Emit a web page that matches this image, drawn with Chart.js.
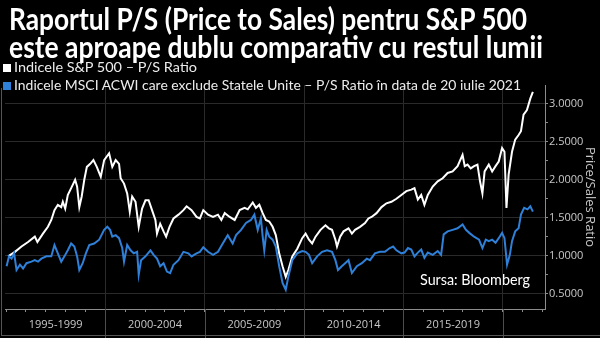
<!DOCTYPE html>
<html lang="ro">
<head>
<meta charset="utf-8">
<title>Raportul P/S - S&P 500 vs MSCI ACWI ex US</title>
<script src="https://cdn.jsdelivr.net/npm/chart.js@4.4.1/dist/chart.umd.min.js"></script>
<style>
  html, body { margin: 0; padding: 0; background: #000; }
  #wrap { position: relative; width: 600px; height: 338px; overflow: hidden; background: #000; font-family: Lato, "Open Sans", sans-serif; }
  #grafic { position: absolute; left: 0; top: 0; }
  .txt { position: absolute; white-space: nowrap; color: #fff; transform-origin: 0 0; line-height: 1; }
  .titlu { font-weight: 700; font-size: 30px; left: 9px; }
  .leg { font-size: 13px; left: 14px; color: #ececec; }
  .patrat { position: absolute; left: 3px; width: 8px; height: 8px; }
  #sursa { left: 420px; top: 272px; font-size: 15px; }
  #rama { position: absolute; left: 1px; top: 88px; width: 620px; height: 247px; border-left: 1px solid #555; border-bottom: 1px solid #555; pointer-events: none; }
</style>
</head>
<body>
<div id="wrap">
  <canvas id="grafic" width="600" height="338"></canvas>
  <div id="rama"></div>
  <div class="txt titlu" style="top:3px" data-w="518">Raportul P/S (Price to Sales) pentru S&amp;P 500</div>
  <div class="txt titlu" style="top:31px" data-w="534">este aproape dublu comparativ cu restul lumii</div>
  <div class="patrat" style="top:64px; background:#fff"></div>
  <div class="txt leg" style="top:61px" data-w="183">Indicele S&amp;P 500 – P/S Ratio</div>
  <div class="patrat" style="top:82px; background:#2f80d8"></div>
  <div class="txt leg" style="top:79px" data-w="507">Indicele MSCI ACWI care exclude Statele Unite – P/S Ratio în data de 20 iulie 2021</div>
  <div class="txt" id="sursa" data-w="110">Sursa: Bloomberg</div>
</div>
<script>
// S&P 500 - P/S (an fractionar, valoare)
const spAni = [1995.11, 1995.45, 1995.78, 1996.11, 1996.45, 1996.58, 1996.86, 1997.11, 1997.28, 1997.44,
  1997.61, 1997.78, 1997.86, 1997.98, 1998.11, 1998.28, 1998.48, 1998.58, 1998.69, 1998.81,
  1998.94, 1999.07, 1999.24, 1999.40, 1999.57, 1999.77, 1999.94, 2000.19, 2000.35, 2000.52,
  2000.69, 2000.77, 2000.94, 2001.10, 2001.23, 2001.35, 2001.52, 2001.68, 2001.85, 2002.02,
  2002.18, 2002.35, 2002.52, 2002.60, 2002.76, 2002.93, 2003.06, 2003.23, 2003.43, 2003.68,
  2003.93, 2004.09, 2004.34, 2004.59, 2004.76, 2004.93, 2005.17, 2005.42, 2005.67, 2005.84,
  2006.01, 2006.26, 2006.51, 2006.76, 2007.01, 2007.17, 2007.42, 2007.58, 2007.75, 2007.92,
  2008.08, 2008.25, 2008.42, 2008.58, 2008.75, 2008.92, 2009.08, 2009.21, 2009.41, 2009.66,
  2009.91, 2010.08, 2010.25, 2010.41, 2010.58, 2010.83, 2011.08, 2011.25, 2011.41, 2011.58,
  2011.66, 2011.82, 2011.99, 2012.24, 2012.41, 2012.57, 2012.82, 2013.07, 2013.24, 2013.40,
  2013.65, 2013.90, 2014.15, 2014.40, 2014.65, 2014.90, 2015.15, 2015.40, 2015.56, 2015.73,
  2015.90, 2016.06, 2016.23, 2016.48, 2016.73, 2016.98, 2017.23, 2017.48, 2017.73, 2017.98,
  2018.09, 2018.23, 2018.39, 2018.56, 2018.73, 2018.86, 2018.98, 2019.09, 2019.30, 2019.47,
  2019.64, 2019.80, 2019.97, 2020.09, 2020.19, 2020.30, 2020.47, 2020.63, 2020.80, 2020.92,
  2021.05, 2021.22, 2021.39, 2021.52];
const spValori = [0.99, 1.05, 1.12, 1.18, 1.25, 1.18, 1.29, 1.38, 1.47, 1.60,
  1.67, 1.64, 1.71, 1.62, 1.80, 1.89, 2.00, 1.91, 1.64, 1.78,
  2.00, 2.17, 2.21, 2.26, 2.17, 2.04, 2.26, 2.35, 2.17, 2.26,
  2.21, 2.02, 1.95, 1.82, 1.58, 1.78, 1.71, 1.38, 1.62, 1.73,
  1.73, 1.60, 1.47, 1.29, 1.42, 1.32, 1.25, 1.38, 1.49, 1.54,
  1.60, 1.65, 1.60, 1.51, 1.49, 1.60, 1.54, 1.51, 1.54, 1.47,
  1.56, 1.51, 1.47, 1.60, 1.63, 1.61, 1.70, 1.63, 1.67, 1.56,
  1.47, 1.45, 1.38, 1.27, 1.03, 0.86, 0.72, 0.81, 0.99, 1.09,
  1.23, 1.29, 1.21, 1.16, 1.25, 1.34, 1.40, 1.36, 1.34, 1.21,
  1.12, 1.25, 1.32, 1.36, 1.29, 1.34, 1.38, 1.43, 1.49, 1.51,
  1.56, 1.64, 1.69, 1.71, 1.75, 1.80, 1.85, 1.87, 1.89, 1.74,
  1.80, 1.67, 1.80, 1.91, 1.98, 2.02, 2.09, 2.11, 2.18, 2.33,
  2.18, 2.20, 2.15, 2.18, 2.20, 1.98, 1.82, 2.11, 2.20, 2.11,
  2.18, 2.24, 2.42, 2.37, 1.63, 2.07, 2.37, 2.53, 2.59, 2.64,
  2.86, 2.92, 3.07, 3.16];

// MSCI ACWI ex US - P/S
const msciAni = [1995.03, 1995.15, 1995.28, 1995.41, 1995.53, 1995.70, 1995.86, 1996.03, 1996.28, 1996.45,
  1996.61, 1996.78, 1997.03, 1997.28, 1997.44, 1997.61, 1997.78, 1997.94, 1998.11, 1998.28,
  1998.44, 1998.58, 1998.69, 1998.86, 1999.02, 1999.19, 1999.44, 1999.69, 1999.94, 2000.10,
  2000.24, 2000.35, 2000.52, 2000.69, 2000.85, 2000.94, 2001.10, 2001.27, 2001.43, 2001.60,
  2001.68, 2001.80, 2002.02, 2002.27, 2002.43, 2002.60, 2002.76, 2002.93, 2003.10, 2003.26,
  2003.43, 2003.68, 2003.93, 2004.18, 2004.34, 2004.59, 2004.76, 2004.93, 2005.17, 2005.42,
  2005.67, 2005.91, 2006.16, 2006.41, 2006.58, 2006.83, 2007.08, 2007.33, 2007.50, 2007.67,
  2007.83, 2007.92, 2008.00, 2008.12, 2008.25, 2008.42, 2008.58, 2008.75, 2008.92, 2009.08,
  2009.21, 2009.41, 2009.66, 2009.91, 2010.08, 2010.25, 2010.41, 2010.66, 2010.91, 2011.16,
  2011.41, 2011.58, 2011.71, 2011.90, 2012.07, 2012.24, 2012.41, 2012.66, 2012.91, 2013.16,
  2013.32, 2013.57, 2013.82, 2014.07, 2014.32, 2014.49, 2014.65, 2014.90, 2015.06, 2015.23,
  2015.40, 2015.56, 2015.73, 2015.90, 2016.06, 2016.23, 2016.48, 2016.73, 2016.90, 2017.03,
  2017.23, 2017.48, 2017.73, 2017.98, 2018.15, 2018.32, 2018.56, 2018.81, 2018.98, 2019.15,
  2019.30, 2019.47, 2019.64, 2019.80, 2019.97, 2020.09, 2020.22, 2020.36, 2020.47, 2020.63,
  2020.80, 2020.92, 2021.08, 2021.25, 2021.39, 2021.52];
const msciValori = [0.86, 0.99, 0.96, 1.03, 0.81, 0.88, 0.83, 0.90, 0.92, 0.94,
  0.92, 0.96, 0.99, 0.99, 1.14, 1.03, 0.92, 0.99, 1.07, 1.16,
  1.12, 0.99, 0.81, 0.90, 1.03, 1.14, 1.16, 1.21, 1.34, 1.38,
  1.34, 1.25, 1.27, 1.23, 1.10, 0.92, 1.14, 1.07, 1.03, 1.05,
  0.75, 0.94, 0.99, 1.07, 1.01, 0.96, 0.86, 0.90, 0.79, 0.77,
  0.88, 0.94, 1.05, 1.03, 0.99, 1.03, 1.05, 1.11, 1.05, 1.01,
  1.05, 1.16, 1.27, 1.16, 1.27, 1.34, 1.43, 1.47, 1.54, 1.34,
  1.49, 1.25, 1.07, 1.34, 1.25, 1.21, 1.12, 0.86, 0.64, 0.55,
  0.72, 0.94, 1.03, 1.06, 1.05, 1.01, 0.90, 0.99, 1.05, 1.07,
  1.05, 0.94, 0.81, 0.86, 0.90, 0.94, 0.77, 0.86, 0.90, 0.96,
  0.94, 1.03, 1.05, 1.05, 1.10, 1.12, 1.07, 1.03, 1.04, 1.10,
  1.08, 0.99, 1.04, 1.08, 0.97, 1.04, 1.01, 1.06, 1.01, 1.28,
  1.32, 1.34, 1.36, 1.41, 1.34, 1.30, 1.25, 1.21, 1.10, 1.21,
  1.19, 1.21, 1.17, 1.23, 1.30, 1.23, 0.88, 1.01, 1.19, 1.32,
  1.36, 1.54, 1.63, 1.61, 1.65, 1.58];

// etichete axe
const perioade = ['1995-1999', '2000-2004', '2005-2009', '2010-2014', '2015-2019'];
const aniTick = [1995, 1996, 1997, 1998, 1999, 2000, 2001, 2002, 2003, 2004, 2005, 2006, 2007, 2008,
  2009, 2010, 2011, 2012, 2013, 2014, 2015, 2016, 2017, 2018, 2019, 2020, 2021, 2022];
const yTickuri = [0.5, 0.75, 1, 1.25, 1.5, 1.75, 2, 2.25, 2.5, 2.75, 3];

const ALB = '#ffffff';
const ALBASTRU = '#2f80d8';
const GRILA = '#2a2a2a';
const AXA = '#8c8c8c';
const TEXT_AXA = '#c8c8c8';

// centrul fiecarei perioade (unde sta eticheta)
const centrePerioade = perioade.map(p => parseInt(p.split('-')[0]) + 2.5);

// linii verticale care separa perioadele sub axa X
const separatoare = {
  id: 'separatoare',
  afterDraw(chart) {
    const { ctx, chartArea } = chart;
    const x = chart.scales.x;
    ctx.save();
    ctx.strokeStyle = '#4d4d4d';
    ctx.lineWidth = 1;
    perioade.forEach(p => {
      const sfarsit = parseInt(p.split('-')[0]) + 5;
      const px = Math.round(x.getPixelForValue(sfarsit)) + 0.5;
      ctx.beginPath();
      ctx.moveTo(px, chartArea.bottom);
      ctx.lineTo(px, chart.height);
      ctx.stroke();
    });
    ctx.restore();
  }
};

function desenareGrafic() {
  const ctx = document.getElementById('grafic').getContext('2d');
  Chart.defaults.font.family = '"Open Sans", Lato, sans-serif';

  new Chart(ctx, {
    type: 'line',
    data: {
      datasets: [{
        label: 'MSCI ACWI ex US',
        data: msciAni.map((an, i) => ({ x: an, y: msciValori[i] })),
        borderColor: ALBASTRU,
        borderWidth: 2,
        pointRadius: 0,
        tension: 0
      }, {
        label: 'S&P 500',
        data: spAni.map((an, i) => ({ x: an, y: spValori[i] })),
        borderColor: ALB,
        borderWidth: 2,
        pointRadius: 0,
        tension: 0
      }]
    },
    options: {
      responsive: false,
      animation: false,
      devicePixelRatio: 1,
      layout: { padding: { left: 1, top: 85, right: 0, bottom: 0 } },
      plugins: { legend: { display: false }, tooltip: { enabled: false } },
      scales: {
        x: {
          type: 'linear',
          min: 1994.95,
          max: 2022.13,
          afterBuildTicks: s => { s.ticks = aniTick.concat(centrePerioade).map(v => ({ value: v })); },
          afterFit: s => { s.height = 29; },
          grid: {
            color: c => (c.tick && c.tick.value % 5 === 0 && c.tick.value > 1995) ? GRILA : 'rgba(0,0,0,0)',
            tickColor: c => (c.tick && Number.isInteger(c.tick.value)) ? AXA : 'rgba(0,0,0,0)',
            tickLength: 3
          },
          border: { color: AXA },
          ticks: {
            autoSkip: false,
            maxRotation: 0,
            color: TEXT_AXA,
            font: { size: 11 },
            padding: 6,
            callback: v => {
              const i = centrePerioade.indexOf(v);
              return i >= 0 ? perioade[i] : '';
            }
          }
        },
        y: {
          position: 'right',
          min: 0.296,
          max: 3.25,
          afterBuildTicks: s => { s.ticks = yTickuri.map(v => ({ value: v })); },
          afterFit: s => { s.width = 55; },
          grid: {
            color: c => (c.tick && c.tick.value % 0.5 === 0) ? GRILA : 'rgba(0,0,0,0)',
            tickColor: AXA,
            tickLength: 3
          },
          border: { color: AXA },
          ticks: {
            color: TEXT_AXA,
            font: { size: 11 },
            padding: 1,
            callback: v => v % 0.5 === 0 ? v.toFixed(4) : ''
          },
          title: {
            display: true,
            text: 'Price/Sales Ratio',
            color: TEXT_AXA,
            font: { size: 13 },
            padding: { top: 2, bottom: 0 }
          }
        }
      }
    },
    plugins: [separatoare]
  });
}

// textele HTML sunt comprimate pe orizontala ca sa ocupe latimea din original
function potrivireTexte() {
  document.querySelectorAll('[data-w]').forEach(el => {
    const w = el.getBoundingClientRect().width;
    const tinta = parseFloat(el.dataset.w);
    if (w > 0) el.style.transform = 'scaleX(' + (tinta / w) + ')';
  });
}

document.addEventListener('DOMContentLoaded', () => {
  desenareGrafic();
  if (document.fonts && document.fonts.ready) {
    document.fonts.ready.then(potrivireTexte);
  } else {
    potrivireTexte();
  }
});
</script>
</body>
</html>
